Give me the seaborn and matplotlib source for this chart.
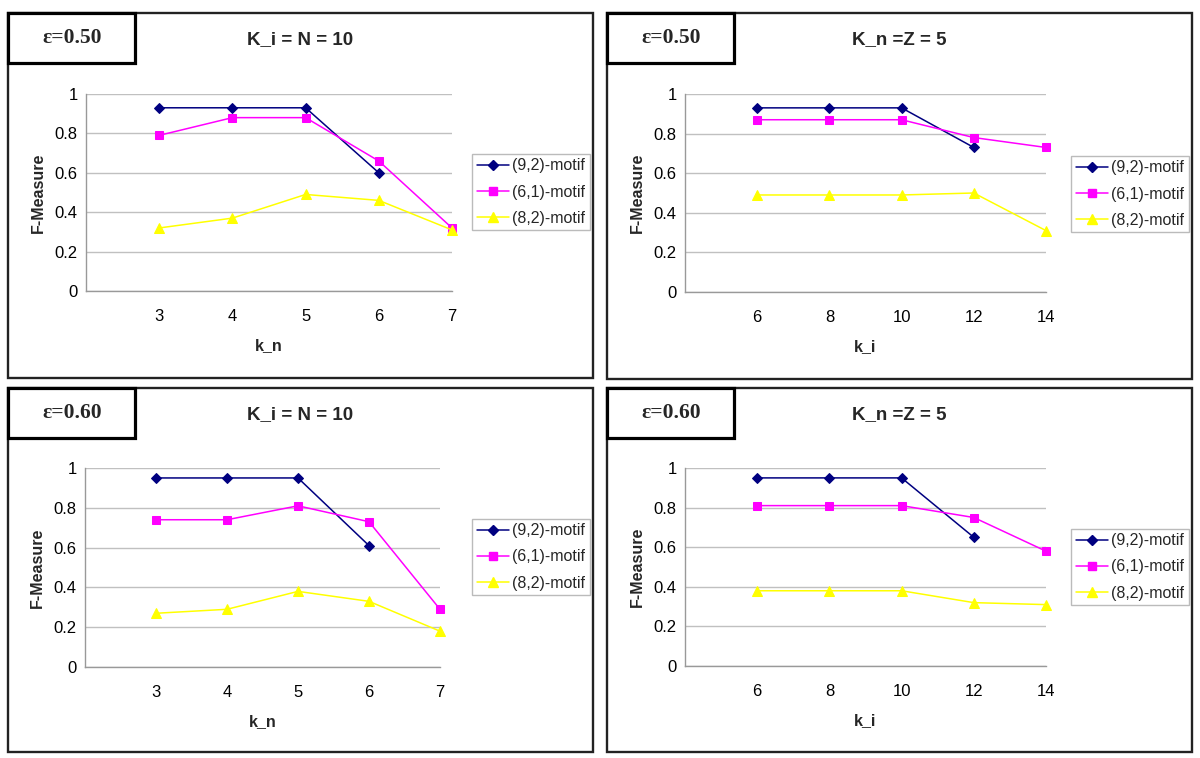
import numpy as np
import pandas as pd
import matplotlib
matplotlib.use("Agg")
import matplotlib.pyplot as plt
from matplotlib.patches import Rectangle
from matplotlib.lines import Line2D
import seaborn as sns

sns.set_theme(style="white")
plt.rcParams['font.family'] = ['Liberation Sans', 'DejaVu Sans']

# ---- data ----
motifs = ["(9,2)-motif", "(6,1)-motif", "(8,2)-motif"]
k_n = [3, 4, 5, 6, 7]
k_i = [6, 8, 10, 12, 14]

# eps = 0.50, K_i = N = 10 (x = k_n)
e50_kn_92 = [0.93, 0.93, 0.93, 0.60, np.nan]
e50_kn_61 = [0.79, 0.88, 0.88, 0.66, 0.32]
e50_kn_82 = [0.32, 0.37, 0.49, 0.46, 0.31]
# eps = 0.50, K_n = Z = 5 (x = k_i)
e50_ki_92 = [0.93, 0.93, 0.93, 0.73, np.nan]
e50_ki_61 = [0.87, 0.87, 0.87, 0.78, 0.73]
e50_ki_82 = [0.49, 0.49, 0.49, 0.50, 0.31]
# eps = 0.60, K_i = N = 10 (x = k_n)
e60_kn_92 = [0.95, 0.95, 0.95, 0.61, np.nan]
e60_kn_61 = [0.74, 0.74, 0.81, 0.73, 0.29]
e60_kn_82 = [0.27, 0.29, 0.38, 0.33, 0.18]
# eps = 0.60, K_n = Z = 5 (x = k_i)
e60_ki_92 = [0.95, 0.95, 0.95, 0.65, np.nan]
e60_ki_61 = [0.81, 0.81, 0.81, 0.75, 0.58]
e60_ki_82 = [0.38, 0.38, 0.38, 0.32, 0.31]

colors = {"(9,2)-motif": "#000080", "(6,1)-motif": "#FF00FF", "(8,2)-motif": "#FFFF00"}
markers = {"(9,2)-motif": "D", "(6,1)-motif": "s", "(8,2)-motif": "^"}
msizes = {"(9,2)-motif": 5.0, "(6,1)-motif": 5.5, "(8,2)-motif": 6.5}

W, H = 1200, 758
fig = plt.figure(figsize=(W / 100, H / 100), dpi=100)


def fx(px):
    return px / W


def fy(py):
    return 1 - py / H


def make_df(x, s1, s2, s3):
    rows = []
    for m, s in zip(motifs, [s1, s2, s3]):
        for xv, yv in zip(x, s):
            rows.append({"x": xv, "y": yv, "motif": m})
    return pd.DataFrame(rows).dropna()


panels = [
    dict(frame=(8, 13, 593, 378), ax=(86, 452, 94, 291), xlim=(2, 7), x=k_n,
         s=(e50_kn_92, e50_kn_61, e50_kn_82), eps="ε=0.50", title="K_i = N = 10",
         xlabel="k_n", leg=(472, 192)),
    dict(frame=(607, 13, 1192, 379), ax=(685, 1046, 94, 292), xlim=(4, 14), x=k_i,
         s=(e50_ki_92, e50_ki_61, e50_ki_82), eps="ε=0.50", title="K_n =Z = 5",
         xlabel="k_i", leg=(1071, 194)),
    dict(frame=(8, 388, 593, 752), ax=(85, 440, 468, 667), xlim=(2, 7), x=k_n,
         s=(e60_kn_92, e60_kn_61, e60_kn_82), eps="ε=0.60", title="K_i = N = 10",
         xlabel="k_n", leg=(472, 557)),
    dict(frame=(607, 388, 1192, 752), ax=(685, 1046, 468, 666), xlim=(4, 14), x=k_i,
         s=(e60_ki_92, e60_ki_61, e60_ki_82), eps="ε=0.60", title="K_n =Z = 5",
         xlabel="k_i", leg=(1071, 567)),
]

for p in panels:
    x0, y0, x1, y1 = p["frame"]
    fig.patches.append(Rectangle((fx(x0), fy(y1)), fx(x1) - fx(x0), fy(y0) - fy(y1),
                                 transform=fig.transFigure, fill=False,
                                 edgecolor="#222222", linewidth=1.7, zorder=0))
    # epsilon box
    fig.patches.append(Rectangle((fx(x0), fy(y0 + 50)), fx(127), 50 / H,
                                 transform=fig.transFigure, fill=False,
                                 edgecolor="black", linewidth=2.3, zorder=1))
    fig.text(fx(x0 + 64), fy(y0 + 25), p["eps"], ha="center", va="center",
             fontsize=15.5, fontweight="bold", family=["Liberation Serif", "DejaVu Serif"])
    al, ar, at, ab = p["ax"]
    ax = fig.add_axes([fx(al), fy(ab), fx(ar) - fx(al), fy(at) - fy(ab)])
    fig.text(fx((x0 + x1) / 2), fy(y0 + 27), p["title"], ha="center", va="center",
             fontsize=13.5, fontweight="bold")
    df = make_df(p["x"], *p["s"])
    for m in motifs:
        sub = df[df["motif"] == m]
        sns.lineplot(data=sub, x="x", y="y", ax=ax, color=colors[m], marker=markers[m],
                     markersize=msizes[m], markeredgecolor=colors[m], linewidth=1.1,
                     legend=False, zorder=3, clip_on=False)
    ax.set_xlim(*p["xlim"])
    ax.set_ylim(0, 1)
    ax.set_xticks([p["xlim"][0]] + list(p["x"]))
    ax.set_xticklabels([""] + [str(v) for v in p["x"]])
    ax.set_yticks([0, 0.2, 0.4, 0.6, 0.8, 1.0])
    ax.set_yticklabels(["0", "0.2", "0.4", "0.6", "0.8", "1"])
    ax.yaxis.grid(True, color="#C0C0C0", linewidth=1.0)
    ax.xaxis.grid(False)
    ax.set_facecolor("none")
    for side in ["top", "right"]:
        ax.spines[side].set_visible(False)
    for side in ["left", "bottom"]:
        ax.spines[side].set_color("#999999")
        ax.spines[side].set_linewidth(1.0)
    ax.tick_params(axis="both", which="both", direction="out", length=4, width=1.0,
                   color="#999999", labelsize=12, labelcolor="black", pad=2)
    ax.tick_params(axis="x", pad=9)
    ax.set_xlabel(p["xlabel"], fontsize=11.5, fontweight="bold", labelpad=10)
    ax.set_ylabel("F-Measure", fontsize=11.5, fontweight="bold", labelpad=6)
    handles = [Line2D([0], [0], color=colors[m], marker=markers[m], markersize=msizes[m],
                      markeredgecolor=colors[m], linewidth=1.1) for m in motifs]
    lx, ly = p["leg"]
    leg = ax.legend(handles, motifs, loc="center left",
                    bbox_to_anchor=(fx(lx), fy(ly)), bbox_transform=fig.transFigure,
                    frameon=True, fancybox=False, edgecolor="#aaaaaa", fontsize=11.5,
                    handlelength=2.0, handletextpad=0.2, borderpad=0.3, labelspacing=0.7,
                    borderaxespad=0)
    leg.get_frame().set_linewidth(1.0)

fig.savefig("out.png", dpi=100)
